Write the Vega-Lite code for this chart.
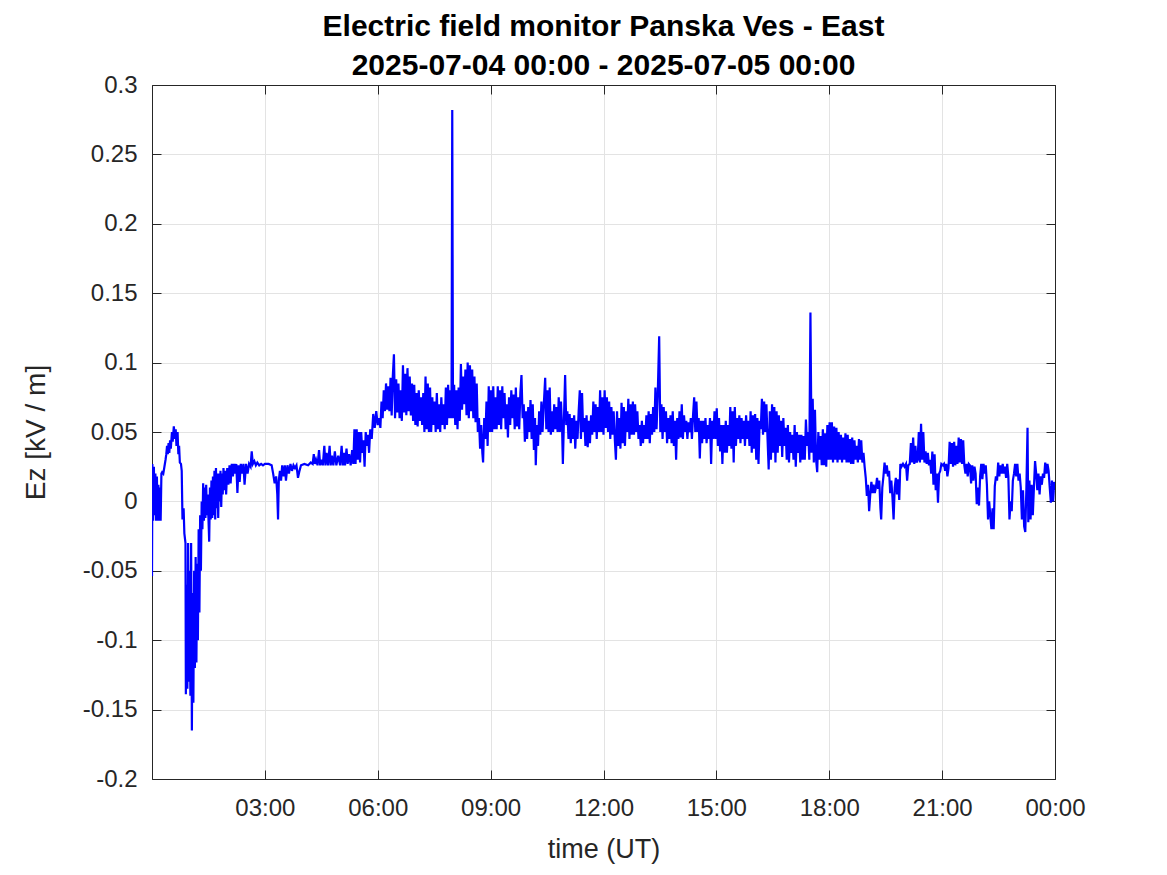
{
  "$schema": "https://vega.github.io/schema/vega-lite/v6.json",
  "autosize": {"type": "none"},
  "padding": {"left": 152, "top": 85, "right": 112, "bottom": 96},
  "width": 903,
  "height": 694,
  "background": "white",
  "config": {
    "font": "Liberation Sans",
    "view": {"stroke": "#262626", "strokeWidth": 1},
    "axis": {"labelFont": "Liberation Sans", "titleFont": "Liberation Sans", "labelColor": "#262626", "titleColor": "#262626", "domainColor": "#262626", "tickColor": "#262626", "gridColor": "#e3e3e3", "gridWidth": 1, "titleFontWeight": "normal"}
  },
  "title": {
    "text": ["Electric field monitor Panska Ves - East", "2025-07-04 00:00 - 2025-07-05 00:00"],
    "fontSize": 30, "fontWeight": "bold", "color": "#000000", "anchor": "middle", "lineHeight": 39, "offset": -8, "font": "Liberation Sans"
  },
  "data": {"values": [
{"h":0.00,"v":-0.054},{"h":0.01,"v":0.027},{"h":0.03,"v":-0.014},{"h":0.05,"v":0.025},{"h":0.07,"v":-0.01},{"h":0.09,"v":0.02},{"h":0.11,"v":-0.014},{"h":0.13,"v":0.018},{"h":0.15,"v":-0.014},{"h":0.17,"v":0.012},{"h":0.19,"v":-0.014},{"h":0.21,"v":0.01},{"h":0.23,"v":-0.014},{"h":0.25,"v":0.02},{"h":0.27,"v":0.021},{"h":0.30,"v":0.02},{"h":0.33,"v":0.025},{"h":0.36,"v":0.03},{"h":0.38,"v":0.034},{"h":0.40,"v":0.04},{"h":0.42,"v":0.034},{"h":0.44,"v":0.042},{"h":0.46,"v":0.035},{"h":0.48,"v":0.044},{"h":0.50,"v":0.038},{"h":0.53,"v":0.05},{"h":0.55,"v":0.043},{"h":0.58,"v":0.054},{"h":0.61,"v":0.045},{"h":0.63,"v":0.052},{"h":0.65,"v":0.04},{"h":0.68,"v":0.05},{"h":0.70,"v":0.034},{"h":0.72,"v":0.04},{"h":0.74,"v":0.028},{"h":0.77,"v":0.027},{"h":0.79,"v":0.022},{"h":0.81,"v":-0.013},{"h":0.84,"v":-0.005},{"h":0.86,"v":-0.023},{"h":0.89,"v":-0.03},{"h":0.90,"v":-0.139},{"h":0.92,"v":-0.06},{"h":0.94,"v":-0.135},{"h":0.96,"v":-0.03},{"h":0.98,"v":-0.13},{"h":1.00,"v":-0.05},{"h":1.02,"v":-0.14},{"h":1.04,"v":-0.03},{"h":1.06,"v":-0.165},{"h":1.08,"v":-0.066},{"h":1.10,"v":-0.145},{"h":1.12,"v":-0.05},{"h":1.14,"v":-0.12},{"h":1.16,"v":-0.04},{"h":1.18,"v":-0.116},{"h":1.20,"v":-0.045},{"h":1.22,"v":-0.1},{"h":1.24,"v":-0.02},{"h":1.26,"v":-0.08},{"h":1.28,"v":-0.01},{"h":1.30,"v":-0.05},{"h":1.32,"v":0.0},{"h":1.34,"v":-0.02},{"h":1.36,"v":0.013},{"h":1.38,"v":-0.014},{"h":1.40,"v":0.01},{"h":1.42,"v":-0.012},{"h":1.44,"v":0.012},{"h":1.46,"v":-0.01},{"h":1.48,"v":0.005},{"h":1.50,"v":-0.012},{"h":1.52,"v":-0.029},{"h":1.54,"v":0.01},{"h":1.56,"v":-0.013},{"h":1.58,"v":0.015},{"h":1.60,"v":-0.012},{"h":1.62,"v":0.018},{"h":1.64,"v":-0.01},{"h":1.66,"v":0.022},{"h":1.68,"v":-0.013},{"h":1.70,"v":0.024},{"h":1.72,"v":-0.005},{"h":1.74,"v":0.02},{"h":1.76,"v":-0.012},{"h":1.78,"v":0.02},{"h":1.80,"v":0.0},{"h":1.82,"v":0.022},{"h":1.84,"v":-0.004},{"h":1.86,"v":0.02},{"h":1.88,"v":0.005},{"h":1.90,"v":0.024},{"h":1.92,"v":0.008},{"h":1.95,"v":0.022},{"h":1.97,"v":0.005},{"h":2.00,"v":0.024},{"h":2.03,"v":0.012},{"h":2.06,"v":0.026},{"h":2.09,"v":0.013},{"h":2.12,"v":0.027},{"h":2.15,"v":0.018},{"h":2.18,"v":0.027},{"h":2.21,"v":0.02},{"h":2.24,"v":0.027},{"h":2.27,"v":0.006},{"h":2.30,"v":0.026},{"h":2.33,"v":0.014},{"h":2.36,"v":0.027},{"h":2.40,"v":0.02},{"h":2.43,"v":0.027},{"h":2.46,"v":0.012},{"h":2.50,"v":0.027},{"h":2.54,"v":0.02},{"h":2.58,"v":0.027},{"h":2.62,"v":0.025},{"h":2.65,"v":0.036},{"h":2.68,"v":0.027},{"h":2.72,"v":0.029},{"h":2.76,"v":0.026},{"h":2.80,"v":0.028},{"h":2.85,"v":0.026},{"h":2.90,"v":0.027},{"h":2.95,"v":0.026},{"h":3.00,"v":0.027},{"h":3.10,"v":0.027},{"h":3.18,"v":0.026},{"h":3.22,"v":0.02},{"h":3.26,"v":0.013},{"h":3.30,"v":0.018},{"h":3.33,"v":0.005},{"h":3.35,"v":-0.013},{"h":3.37,"v":0.015},{"h":3.40,"v":0.022},{"h":3.43,"v":0.015},{"h":3.46,"v":0.026},{"h":3.50,"v":0.018},{"h":3.53,"v":0.026},{"h":3.56,"v":0.015},{"h":3.60,"v":0.026},{"h":3.64,"v":0.02},{"h":3.68,"v":0.027},{"h":3.72,"v":0.022},{"h":3.76,"v":0.026},{"h":3.80,"v":0.024},{"h":3.84,"v":0.026},{"h":3.88,"v":0.017},{"h":3.92,"v":0.022},{"h":3.96,"v":0.026},{"h":4.05,"v":0.027},{"h":4.15,"v":0.026},{"h":4.22,"v":0.028},{"h":4.27,"v":0.027},{"h":4.30,"v":0.034},{"h":4.33,"v":0.027},{"h":4.36,"v":0.03},{"h":4.40,"v":0.026},{"h":4.44,"v":0.037},{"h":4.47,"v":0.026},{"h":4.50,"v":0.03},{"h":4.54,"v":0.026},{"h":4.58,"v":0.04},{"h":4.61,"v":0.026},{"h":4.64,"v":0.035},{"h":4.68,"v":0.026},{"h":4.72,"v":0.04},{"h":4.75,"v":0.026},{"h":4.78,"v":0.033},{"h":4.82,"v":0.026},{"h":4.86,"v":0.036},{"h":4.90,"v":0.026},{"h":4.95,"v":0.033},{"h":5.00,"v":0.026},{"h":5.04,"v":0.04},{"h":5.07,"v":0.026},{"h":5.10,"v":0.035},{"h":5.13,"v":0.026},{"h":5.17,"v":0.038},{"h":5.20,"v":0.027},{"h":5.24,"v":0.034},{"h":5.28,"v":0.026},{"h":5.32,"v":0.037},{"h":5.35,"v":0.027},{"h":5.38,"v":0.052},{"h":5.41,"v":0.027},{"h":5.44,"v":0.052},{"h":5.47,"v":0.03},{"h":5.50,"v":0.05},{"h":5.53,"v":0.028},{"h":5.56,"v":0.05},{"h":5.59,"v":0.035},{"h":5.62,"v":0.044},{"h":5.65,"v":0.025},{"h":5.68,"v":0.05},{"h":5.71,"v":0.04},{"h":5.74,"v":0.048},{"h":5.77,"v":0.035},{"h":5.80,"v":0.052},{"h":5.84,"v":0.045},{"h":5.88,"v":0.063},{"h":5.92,"v":0.053},{"h":5.96,"v":0.065},{"h":6.00,"v":0.055},{"h":6.04,"v":0.06},{"h":6.07,"v":0.053},{"h":6.10,"v":0.072},{"h":6.13,"v":0.06},{"h":6.16,"v":0.08},{"h":6.19,"v":0.065},{"h":6.22,"v":0.085},{"h":6.25,"v":0.066},{"h":6.28,"v":0.083},{"h":6.31,"v":0.065},{"h":6.34,"v":0.089},{"h":6.37,"v":0.062},{"h":6.40,"v":0.09},{"h":6.43,"v":0.106},{"h":6.46,"v":0.06},{"h":6.49,"v":0.088},{"h":6.52,"v":0.064},{"h":6.55,"v":0.085},{"h":6.58,"v":0.06},{"h":6.61,"v":0.08},{"h":6.64,"v":0.058},{"h":6.67,"v":0.098},{"h":6.70,"v":0.064},{"h":6.73,"v":0.092},{"h":6.76,"v":0.062},{"h":6.79,"v":0.096},{"h":6.82,"v":0.065},{"h":6.85,"v":0.09},{"h":6.88,"v":0.062},{"h":6.91,"v":0.085},{"h":6.94,"v":0.058},{"h":6.97,"v":0.084},{"h":7.00,"v":0.055},{"h":7.03,"v":0.078},{"h":7.06,"v":0.054},{"h":7.09,"v":0.08},{"h":7.12,"v":0.058},{"h":7.15,"v":0.075},{"h":7.18,"v":0.055},{"h":7.21,"v":0.078},{"h":7.24,"v":0.05},{"h":7.27,"v":0.09},{"h":7.30,"v":0.052},{"h":7.33,"v":0.085},{"h":7.36,"v":0.05},{"h":7.39,"v":0.082},{"h":7.42,"v":0.05},{"h":7.45,"v":0.075},{"h":7.48,"v":0.055},{"h":7.51,"v":0.072},{"h":7.54,"v":0.05},{"h":7.57,"v":0.078},{"h":7.60,"v":0.052},{"h":7.63,"v":0.07},{"h":7.66,"v":0.05},{"h":7.69,"v":0.075},{"h":7.72,"v":0.055},{"h":7.75,"v":0.07},{"h":7.78,"v":0.052},{"h":7.81,"v":0.082},{"h":7.84,"v":0.055},{"h":7.87,"v":0.084},{"h":7.90,"v":0.06},{"h":7.93,"v":0.08},{"h":7.96,"v":0.06},{"h":7.98,"v":0.282},{"h":8.00,"v":0.06},{"h":8.03,"v":0.084},{"h":8.06,"v":0.055},{"h":8.09,"v":0.08},{"h":8.12,"v":0.052},{"h":8.15,"v":0.082},{"h":8.18,"v":0.058},{"h":8.21,"v":0.099},{"h":8.24,"v":0.066},{"h":8.27,"v":0.09},{"h":8.30,"v":0.07},{"h":8.33,"v":0.095},{"h":8.36,"v":0.062},{"h":8.39,"v":0.1},{"h":8.42,"v":0.06},{"h":8.45,"v":0.098},{"h":8.48,"v":0.065},{"h":8.51,"v":0.095},{"h":8.54,"v":0.06},{"h":8.57,"v":0.09},{"h":8.60,"v":0.057},{"h":8.63,"v":0.085},{"h":8.66,"v":0.05},{"h":8.69,"v":0.06},{"h":8.72,"v":0.038},{"h":8.75,"v":0.055},{"h":8.78,"v":0.035},{"h":8.80,"v":0.028},{"h":8.83,"v":0.06},{"h":8.86,"v":0.045},{"h":8.89,"v":0.072},{"h":8.92,"v":0.04},{"h":8.95,"v":0.083},{"h":8.98,"v":0.05},{"h":9.01,"v":0.08},{"h":9.04,"v":0.05},{"h":9.07,"v":0.083},{"h":9.10,"v":0.052},{"h":9.13,"v":0.075},{"h":9.16,"v":0.052},{"h":9.19,"v":0.083},{"h":9.22,"v":0.055},{"h":9.25,"v":0.08},{"h":9.28,"v":0.052},{"h":9.31,"v":0.083},{"h":9.34,"v":0.06},{"h":9.37,"v":0.078},{"h":9.40,"v":0.052},{"h":9.43,"v":0.07},{"h":9.46,"v":0.046},{"h":9.49,"v":0.075},{"h":9.52,"v":0.055},{"h":9.55,"v":0.08},{"h":9.58,"v":0.06},{"h":9.61,"v":0.077},{"h":9.64,"v":0.052},{"h":9.67,"v":0.082},{"h":9.70,"v":0.054},{"h":9.73,"v":0.075},{"h":9.76,"v":0.052},{"h":9.79,"v":0.078},{"h":9.82,"v":0.091},{"h":9.85,"v":0.06},{"h":9.88,"v":0.07},{"h":9.91,"v":0.043},{"h":9.94,"v":0.065},{"h":9.97,"v":0.045},{"h":10.00,"v":0.068},{"h":10.03,"v":0.05},{"h":10.06,"v":0.073},{"h":10.09,"v":0.045},{"h":10.12,"v":0.07},{"h":10.15,"v":0.037},{"h":10.18,"v":0.06},{"h":10.20,"v":0.026},{"h":10.23,"v":0.055},{"h":10.26,"v":0.04},{"h":10.29,"v":0.065},{"h":10.32,"v":0.048},{"h":10.35,"v":0.072},{"h":10.38,"v":0.05},{"h":10.41,"v":0.068},{"h":10.45,"v":0.089},{"h":10.48,"v":0.052},{"h":10.51,"v":0.08},{"h":10.54,"v":0.05},{"h":10.57,"v":0.082},{"h":10.60,"v":0.048},{"h":10.63,"v":0.065},{"h":10.66,"v":0.05},{"h":10.69,"v":0.07},{"h":10.72,"v":0.052},{"h":10.75,"v":0.068},{"h":10.78,"v":0.05},{"h":10.81,"v":0.075},{"h":10.84,"v":0.05},{"h":10.87,"v":0.072},{"h":10.90,"v":0.052},{"h":10.92,"v":0.027},{"h":10.95,"v":0.06},{"h":10.98,"v":0.091},{"h":11.01,"v":0.055},{"h":11.04,"v":0.065},{"h":11.07,"v":0.045},{"h":11.10,"v":0.063},{"h":11.13,"v":0.042},{"h":11.16,"v":0.06},{"h":11.19,"v":0.045},{"h":11.22,"v":0.062},{"h":11.25,"v":0.038},{"h":11.28,"v":0.058},{"h":11.31,"v":0.045},{"h":11.34,"v":0.065},{"h":11.37,"v":0.08},{"h":11.40,"v":0.045},{"h":11.43,"v":0.078},{"h":11.46,"v":0.05},{"h":11.49,"v":0.06},{"h":11.52,"v":0.04},{"h":11.55,"v":0.062},{"h":11.58,"v":0.039},{"h":11.61,"v":0.058},{"h":11.64,"v":0.042},{"h":11.67,"v":0.062},{"h":11.70,"v":0.048},{"h":11.73,"v":0.072},{"h":11.76,"v":0.05},{"h":11.79,"v":0.07},{"h":11.82,"v":0.045},{"h":11.85,"v":0.068},{"h":11.88,"v":0.05},{"h":11.91,"v":0.08},{"h":11.94,"v":0.05},{"h":11.97,"v":0.075},{"h":12.00,"v":0.048},{"h":12.03,"v":0.08},{"h":12.06,"v":0.053},{"h":12.09,"v":0.075},{"h":12.12,"v":0.05},{"h":12.15,"v":0.072},{"h":12.18,"v":0.045},{"h":12.21,"v":0.068},{"h":12.24,"v":0.048},{"h":12.27,"v":0.065},{"h":12.30,"v":0.045},{"h":12.33,"v":0.03},{"h":12.36,"v":0.065},{"h":12.39,"v":0.04},{"h":12.42,"v":0.06},{"h":12.45,"v":0.038},{"h":12.48,"v":0.071},{"h":12.51,"v":0.042},{"h":12.54,"v":0.068},{"h":12.57,"v":0.04},{"h":12.60,"v":0.065},{"h":12.63,"v":0.05},{"h":12.66,"v":0.074},{"h":12.69,"v":0.045},{"h":12.72,"v":0.07},{"h":12.75,"v":0.048},{"h":12.78,"v":0.072},{"h":12.81,"v":0.048},{"h":12.84,"v":0.07},{"h":12.87,"v":0.05},{"h":12.90,"v":0.065},{"h":12.93,"v":0.045},{"h":12.96,"v":0.055},{"h":12.99,"v":0.04},{"h":13.02,"v":0.058},{"h":13.05,"v":0.042},{"h":13.08,"v":0.055},{"h":13.11,"v":0.045},{"h":13.14,"v":0.062},{"h":13.17,"v":0.045},{"h":13.20,"v":0.065},{"h":13.23,"v":0.042},{"h":13.26,"v":0.063},{"h":13.29,"v":0.048},{"h":13.32,"v":0.068},{"h":13.35,"v":0.05},{"h":13.38,"v":0.082},{"h":13.41,"v":0.052},{"h":13.44,"v":0.075},{"h":13.48,"v":0.119},{"h":13.51,"v":0.05},{"h":13.54,"v":0.07},{"h":13.57,"v":0.045},{"h":13.60,"v":0.068},{"h":13.63,"v":0.05},{"h":13.66,"v":0.065},{"h":13.69,"v":0.042},{"h":13.72,"v":0.06},{"h":13.75,"v":0.045},{"h":13.78,"v":0.062},{"h":13.81,"v":0.042},{"h":13.84,"v":0.065},{"h":13.87,"v":0.04},{"h":13.90,"v":0.058},{"h":13.93,"v":0.03},{"h":13.96,"v":0.06},{"h":13.99,"v":0.045},{"h":14.02,"v":0.065},{"h":14.05,"v":0.046},{"h":14.08,"v":0.07},{"h":14.11,"v":0.045},{"h":14.14,"v":0.062},{"h":14.17,"v":0.05},{"h":14.20,"v":0.058},{"h":14.23,"v":0.045},{"h":14.26,"v":0.057},{"h":14.29,"v":0.05},{"h":14.32,"v":0.06},{"h":14.35,"v":0.045},{"h":14.38,"v":0.062},{"h":14.41,"v":0.075},{"h":14.44,"v":0.05},{"h":14.47,"v":0.072},{"h":14.50,"v":0.05},{"h":14.53,"v":0.06},{"h":14.56,"v":0.031},{"h":14.59,"v":0.058},{"h":14.62,"v":0.042},{"h":14.65,"v":0.058},{"h":14.68,"v":0.045},{"h":14.71,"v":0.06},{"h":14.74,"v":0.042},{"h":14.77,"v":0.055},{"h":14.80,"v":0.045},{"h":14.83,"v":0.06},{"h":14.86,"v":0.027},{"h":14.89,"v":0.058},{"h":14.92,"v":0.045},{"h":14.95,"v":0.065},{"h":14.98,"v":0.045},{"h":15.01,"v":0.067},{"h":15.04,"v":0.04},{"h":15.07,"v":0.06},{"h":15.10,"v":0.036},{"h":15.13,"v":0.055},{"h":15.16,"v":0.027},{"h":15.19,"v":0.055},{"h":15.22,"v":0.035},{"h":15.25,"v":0.058},{"h":15.28,"v":0.035},{"h":15.31,"v":0.055},{"h":15.34,"v":0.04},{"h":15.37,"v":0.068},{"h":15.40,"v":0.038},{"h":15.43,"v":0.065},{"h":15.46,"v":0.028},{"h":15.49,"v":0.068},{"h":15.52,"v":0.04},{"h":15.55,"v":0.06},{"h":15.58,"v":0.045},{"h":15.61,"v":0.062},{"h":15.64,"v":0.042},{"h":15.67,"v":0.06},{"h":15.70,"v":0.045},{"h":15.73,"v":0.058},{"h":15.76,"v":0.04},{"h":15.79,"v":0.062},{"h":15.82,"v":0.045},{"h":15.85,"v":0.058},{"h":15.88,"v":0.04},{"h":15.91,"v":0.065},{"h":15.94,"v":0.035},{"h":15.97,"v":0.062},{"h":16.00,"v":0.038},{"h":16.03,"v":0.063},{"h":16.06,"v":0.03},{"h":16.09,"v":0.06},{"h":16.12,"v":0.027},{"h":16.15,"v":0.058},{"h":16.18,"v":0.052},{"h":16.21,"v":0.074},{"h":16.24,"v":0.048},{"h":16.27,"v":0.072},{"h":16.30,"v":0.05},{"h":16.33,"v":0.07},{"h":16.36,"v":0.045},{"h":16.39,"v":0.023},{"h":16.42,"v":0.065},{"h":16.45,"v":0.03},{"h":16.48,"v":0.07},{"h":16.51,"v":0.035},{"h":16.54,"v":0.068},{"h":16.57,"v":0.028},{"h":16.60,"v":0.065},{"h":16.63,"v":0.035},{"h":16.66,"v":0.062},{"h":16.69,"v":0.04},{"h":16.72,"v":0.058},{"h":16.75,"v":0.032},{"h":16.78,"v":0.06},{"h":16.81,"v":0.04},{"h":16.84,"v":0.053},{"h":16.87,"v":0.03},{"h":16.90,"v":0.055},{"h":16.93,"v":0.028},{"h":16.96,"v":0.05},{"h":16.99,"v":0.035},{"h":17.02,"v":0.048},{"h":17.05,"v":0.03},{"h":17.08,"v":0.055},{"h":17.11,"v":0.025},{"h":17.14,"v":0.05},{"h":17.17,"v":0.035},{"h":17.20,"v":0.048},{"h":17.23,"v":0.028},{"h":17.26,"v":0.048},{"h":17.29,"v":0.03},{"h":17.32,"v":0.047},{"h":17.35,"v":0.03},{"h":17.38,"v":0.059},{"h":17.41,"v":0.04},{"h":17.44,"v":0.05},{"h":17.47,"v":0.03},{"h":17.50,"v":0.136},{"h":17.53,"v":0.035},{"h":17.56,"v":0.074},{"h":17.59,"v":0.028},{"h":17.62,"v":0.066},{"h":17.65,"v":0.03},{"h":17.68,"v":0.021},{"h":17.71,"v":0.05},{"h":17.74,"v":0.03},{"h":17.77,"v":0.047},{"h":17.80,"v":0.026},{"h":17.83,"v":0.052},{"h":17.86,"v":0.026},{"h":17.89,"v":0.049},{"h":17.92,"v":0.025},{"h":17.95,"v":0.055},{"h":17.98,"v":0.03},{"h":18.01,"v":0.057},{"h":18.04,"v":0.03},{"h":18.07,"v":0.057},{"h":18.10,"v":0.028},{"h":18.13,"v":0.054},{"h":18.16,"v":0.03},{"h":18.19,"v":0.053},{"h":18.22,"v":0.028},{"h":18.25,"v":0.05},{"h":18.28,"v":0.03},{"h":18.31,"v":0.048},{"h":18.34,"v":0.028},{"h":18.37,"v":0.046},{"h":18.40,"v":0.03},{"h":18.43,"v":0.049},{"h":18.46,"v":0.028},{"h":18.49,"v":0.048},{"h":18.52,"v":0.028},{"h":18.55,"v":0.045},{"h":18.58,"v":0.027},{"h":18.61,"v":0.046},{"h":18.64,"v":0.027},{"h":18.67,"v":0.044},{"h":18.70,"v":0.03},{"h":18.73,"v":0.04},{"h":18.76,"v":0.028},{"h":18.79,"v":0.045},{"h":18.82,"v":0.03},{"h":18.85,"v":0.044},{"h":18.88,"v":0.028},{"h":18.91,"v":0.035},{"h":18.94,"v":0.025},{"h":18.97,"v":0.017},{"h":19.00,"v":0.004},{"h":19.03,"v":0.012},{"h":19.06,"v":-0.007},{"h":19.09,"v":0.005},{"h":19.12,"v":0.014},{"h":19.15,"v":0.006},{"h":19.18,"v":0.012},{"h":19.21,"v":0.006},{"h":19.24,"v":0.01},{"h":19.27,"v":0.017},{"h":19.30,"v":0.009},{"h":19.33,"v":0.015},{"h":19.36,"v":-0.005},{"h":19.38,"v":-0.013},{"h":19.41,"v":0.01},{"h":19.44,"v":0.018},{"h":19.47,"v":0.028},{"h":19.50,"v":0.02},{"h":19.53,"v":0.026},{"h":19.56,"v":0.018},{"h":19.59,"v":0.022},{"h":19.62,"v":0.006},{"h":19.65,"v":0.015},{"h":19.68,"v":0.003},{"h":19.71,"v":-0.013},{"h":19.74,"v":0.01},{"h":19.77,"v":0.017},{"h":19.80,"v":0.005},{"h":19.83,"v":0.016},{"h":19.86,"v":0.001},{"h":19.89,"v":0.027},{"h":19.92,"v":0.025},{"h":19.96,"v":0.027},{"h":20.00,"v":0.025},{"h":20.04,"v":0.027},{"h":20.07,"v":0.015},{"h":20.10,"v":0.026},{"h":20.14,"v":0.027},{"h":20.17,"v":0.042},{"h":20.20,"v":0.028},{"h":20.23,"v":0.046},{"h":20.26,"v":0.027},{"h":20.29,"v":0.04},{"h":20.32,"v":0.028},{"h":20.35,"v":0.03},{"h":20.38,"v":0.05},{"h":20.41,"v":0.028},{"h":20.44,"v":0.056},{"h":20.47,"v":0.03},{"h":20.50,"v":0.05},{"h":20.53,"v":0.028},{"h":20.56,"v":0.036},{"h":20.59,"v":0.027},{"h":20.62,"v":0.035},{"h":20.65,"v":0.026},{"h":20.68,"v":0.03},{"h":20.71,"v":0.02},{"h":20.74,"v":0.036},{"h":20.77,"v":0.012},{"h":20.80,"v":0.034},{"h":20.83,"v":0.008},{"h":20.86,"v":0.02},{"h":20.89,"v":-0.001},{"h":20.92,"v":0.02},{"h":20.95,"v":0.022},{"h":20.98,"v":0.027},{"h":21.02,"v":0.026},{"h":21.05,"v":0.027},{"h":21.08,"v":0.022},{"h":21.11,"v":0.027},{"h":21.14,"v":0.018},{"h":21.17,"v":0.024},{"h":21.20,"v":0.043},{"h":21.23,"v":0.027},{"h":21.26,"v":0.042},{"h":21.29,"v":0.025},{"h":21.32,"v":0.043},{"h":21.35,"v":0.026},{"h":21.38,"v":0.04},{"h":21.41,"v":0.027},{"h":21.44,"v":0.046},{"h":21.47,"v":0.028},{"h":21.50,"v":0.045},{"h":21.53,"v":0.027},{"h":21.56,"v":0.044},{"h":21.59,"v":0.026},{"h":21.62,"v":0.02},{"h":21.65,"v":0.027},{"h":21.68,"v":0.018},{"h":21.71,"v":0.027},{"h":21.74,"v":0.026},{"h":21.77,"v":0.013},{"h":21.80,"v":0.026},{"h":21.83,"v":0.015},{"h":21.86,"v":0.025},{"h":21.89,"v":0.02},{"h":21.92,"v":-0.002},{"h":21.95,"v":0.01},{"h":21.98,"v":-0.003},{"h":22.01,"v":0.018},{"h":22.04,"v":0.027},{"h":22.07,"v":0.016},{"h":22.10,"v":0.027},{"h":22.13,"v":0.02},{"h":22.16,"v":0.026},{"h":22.19,"v":0.012},{"h":22.22,"v":-0.013},{"h":22.25,"v":0.0},{"h":22.28,"v":-0.01},{"h":22.31,"v":-0.02},{"h":22.34,"v":-0.005},{"h":22.37,"v":-0.02},{"h":22.40,"v":0.011},{"h":22.43,"v":0.018},{"h":22.46,"v":0.015},{"h":22.49,"v":0.028},{"h":22.52,"v":0.018},{"h":22.55,"v":0.026},{"h":22.58,"v":0.02},{"h":22.61,"v":0.027},{"h":22.64,"v":0.02},{"h":22.67,"v":0.025},{"h":22.70,"v":0.017},{"h":22.73,"v":0.027},{"h":22.76,"v":0.018},{"h":22.79,"v":-0.013},{"h":22.82,"v":0.0},{"h":22.85,"v":-0.007},{"h":22.88,"v":0.015},{"h":22.91,"v":0.02},{"h":22.94,"v":0.027},{"h":22.97,"v":0.018},{"h":23.00,"v":0.027},{"h":23.03,"v":0.015},{"h":23.06,"v":0.02},{"h":23.09,"v":0.01},{"h":23.12,"v":-0.013},{"h":23.15,"v":0.008},{"h":23.18,"v":-0.018},{"h":23.21,"v":-0.022},{"h":23.24,"v":0.01},{"h":23.27,"v":0.053},{"h":23.29,"v":-0.015},{"h":23.32,"v":0.015},{"h":23.35,"v":-0.013},{"h":23.38,"v":0.012},{"h":23.41,"v":-0.01},{"h":23.44,"v":0.01},{"h":23.47,"v":0.029},{"h":23.50,"v":0.02},{"h":23.53,"v":0.008},{"h":23.56,"v":0.02},{"h":23.59,"v":0.005},{"h":23.62,"v":0.018},{"h":23.65,"v":0.012},{"h":23.68,"v":0.02},{"h":23.71,"v":0.017},{"h":23.74,"v":0.028},{"h":23.77,"v":0.02},{"h":23.80,"v":0.027},{"h":23.83,"v":0.022},{"h":23.86,"v":0.01},{"h":23.89,"v":-0.001},{"h":23.92,"v":0.015},{"h":23.95,"v":0.0},{"h":23.98,"v":0.014},{"h":24.00,"v":0.008}
  ]},
  "layer": [
    {
      "mark": {"type": "line", "color": "#0000ff", "strokeWidth": 2.2, "clip": true, "interpolate": "linear"},
      "encoding": {
        "x": {"field": "h", "type": "quantitative", "scale": {"domain": [0, 24], "nice": false, "zero": false},
          "axis": {"orient": "bottom", "values": [3, 6, 9, 12, 15, 18, 21, 24], "labelExpr": "(datum.value % 24 < 10 ? '0' : '') + (datum.value % 24) + ':00'", "title": "time (UT)", "labelFontSize": 24, "titleFontSize": 27, "tickSize": -9, "labelPadding": 26, "titlePadding": 16, "grid": true, "labelFlush": false}},
        "y": {"field": "v", "type": "quantitative", "scale": {"domain": [-0.2, 0.3], "nice": false, "zero": false},
          "axis": {"orient": "left", "values": [-0.2, -0.15, -0.1, -0.05, 0, 0.05, 0.1, 0.15, 0.2, 0.25, 0.3], "labelExpr": "'' + datum.value", "title": "Ez [kV / m]", "labelFontSize": 24, "titleFontSize": 28, "tickSize": -9, "labelPadding": 24, "titlePadding": 32, "grid": true, "labelFlush": false}}
      }
    },
    {
      "mark": {"type": "line", "opacity": 0},
      "encoding": {
        "x": {"field": "h", "type": "quantitative", "scale": {"domain": [0, 24], "nice": false, "zero": false},
          "axis": {"orient": "top", "values": [3, 6, 9, 12, 15, 18, 21, 24], "labels": false, "title": null, "tickSize": -9, "grid": false}},
        "y": {"field": "v", "type": "quantitative", "scale": {"domain": [-0.2, 0.3], "nice": false, "zero": false},
          "axis": {"orient": "right", "values": [-0.2, -0.15, -0.1, -0.05, 0, 0.05, 0.1, 0.15, 0.2, 0.25, 0.3], "labels": false, "title": null, "tickSize": -9, "grid": false}}
      }
    }
  ],
  "resolve": {"axis": {"x": "independent", "y": "independent"}}
}
